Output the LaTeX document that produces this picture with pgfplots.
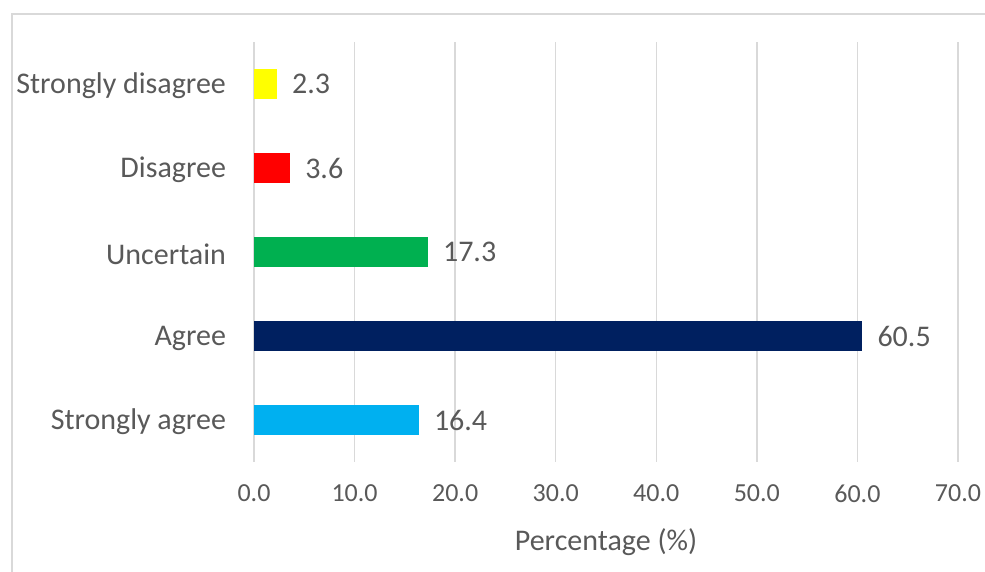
\documentclass[border=0pt]{standalone}
\usepackage{pgfplots}
\pgfplotsset{compat=1.18}
\usepackage{fontspec}
\setmainfont{Carlito}
\definecolor{txt}{HTML}{595959}
\definecolor{gridc}{HTML}{D9D9D9}
\definecolor{cyel}{HTML}{FFFF00}
\definecolor{cred}{HTML}{FF0000}
\definecolor{cgrn}{HTML}{00B050}
\definecolor{cnavy}{HTML}{002060}
\definecolor{cblue}{HTML}{00B0F0}
\begin{document}
\begin{tikzpicture}[x=0.5pt,y=0.5pt]
\useasboundingbox (0,0) rectangle (985,572);
\draw[gridc, line width=0.75pt] (12,-5) -- (12,558) -- (990,558);
\begin{axis}[
  at={(127pt,55pt)}, anchor=south west,
  scale only axis, width=352pt, height=210pt,
  xmin=0, xmax=70, ymin=-0.5, ymax=4.5,
  xbar, bar width=14.75pt, bar shift=0pt,
  axis line style={draw=none},
  major tick length=0pt,
  xtick={0,10,...,70},
  xmajorgrids, grid style={gridc, line width=0.75pt},
  ytick={0,1,2,3,4},
  yticklabels={Strongly agree, Agree, Uncertain, Disagree, Strongly disagree},
  /pgf/number format/assume math mode=true,
  /pgf/number format/fixed, /pgf/number format/zerofill, /pgf/number format/precision=1,
  xticklabel style={font=\fontsize{13pt}{15pt}\selectfont, text=txt, yshift=-8pt},
  yticklabel style={font=\fontsize{15pt}{17pt}\selectfont, text=txt, xshift=-10.5pt, yshift=-1pt},
  xlabel={Percentage (\%)},
  xlabel style={font=\fontsize{15pt}{17pt}\selectfont, text=txt, yshift=-6pt},
  nodes near coords,
  nodes near coords style={font=\fontsize{15pt}{17pt}\selectfont, text=txt, xshift=4pt,
    /pgf/number format/fixed, /pgf/number format/zerofill, /pgf/number format/precision=1},
  clip=false,
]
\addplot[fill=cblue, draw=none] coordinates {(16.4,0)};
\addplot[fill=cnavy, draw=none] coordinates {(60.5,1)};
\addplot[fill=cgrn, draw=none] coordinates {(17.3,2)};
\addplot[fill=cred, draw=none] coordinates {(3.6,3)};
\addplot[fill=cyel, draw=none] coordinates {(2.3,4)};
\end{axis}
\end{tikzpicture}
\end{document}
